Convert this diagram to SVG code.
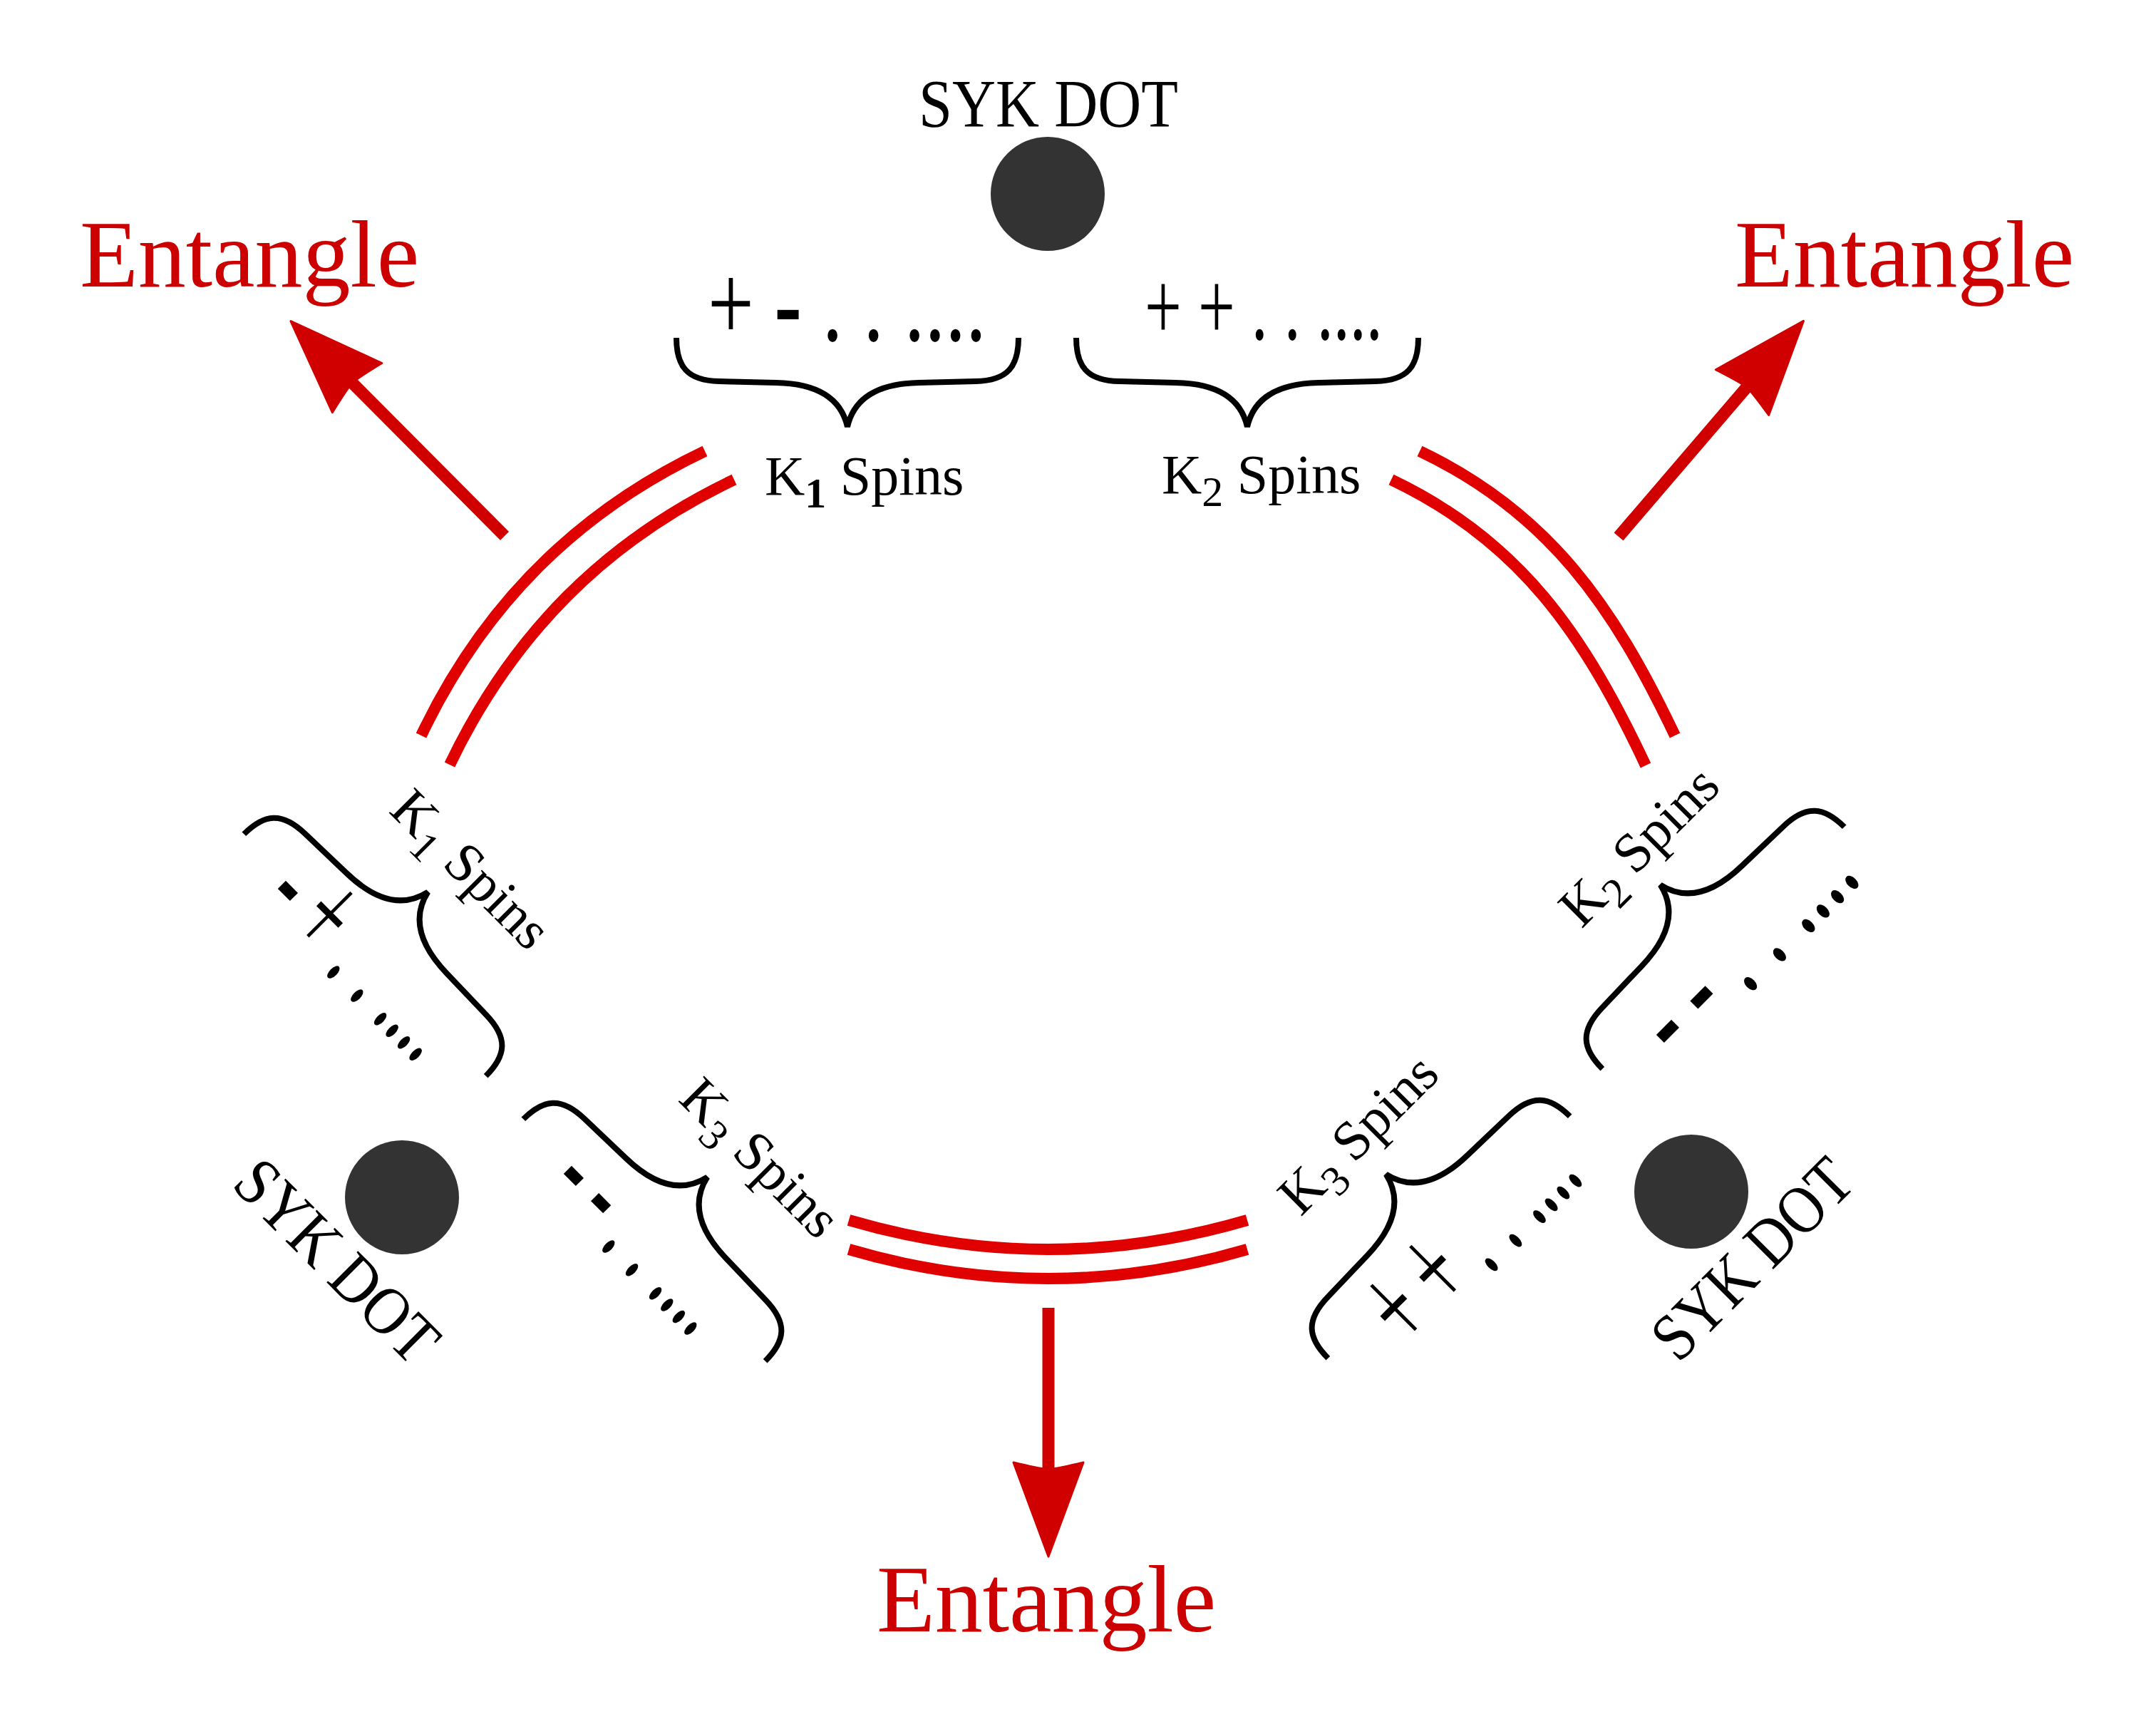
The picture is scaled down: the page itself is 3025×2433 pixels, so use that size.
<svg xmlns="http://www.w3.org/2000/svg" width="3025" height="2433" viewBox="0 0 3025 2433">
<style>
text{font-family:"Liberation Serif","Times New Roman",serif;fill:#000}
.syk{font-size:95px}
.lbl{font-size:78px}
.sub{font-size:60px}
.ent{font-size:134px;fill:#cc0000}
.seq{font-size:93px}
.hy{font-weight:bold}
.brace{fill:none;stroke:#000;stroke-width:8}
.link{fill:none;stroke:#e00000;stroke-width:16}
.arrow{fill:none;stroke:#d00000;stroke-width:17}
.dot{fill:#333333}
</style>
<defs>
<path id="br" d="M-240,0 C-240,40 -225,60 -180,61 L-100,63 C-50,64 -10,80 0,125 C10,80 50,64 100,63 L180,61 C225,60 240,40 240,0"/>
<marker id="ah" markerUnits="userSpaceOnUse" orient="auto" markerWidth="300" markerHeight="300" viewBox="-150 -150 300 300" refX="0" refY="0">
<path d="M122,0 L-10,-49 Q-2,-16 0,0 Q-2,16 -10,49 Z" fill="#d00000" stroke="#d00000" stroke-width="3" stroke-linejoin="round"/>
</marker>
</defs>
<rect width="3025" height="2433" fill="#fff"/>

<g id="connectors">
<path class="link" d="M989,633 C808,719 677,851 591,1032"/>
<path class="link" d="M1030,673 C849,759 718,891 631,1073"/>
<path class="link" d="M1992,633 C2173,719 2264,851 2350,1032"/>
<path class="link" d="M1952,673 C2133,759 2223,891 2309,1074"/>
<path class="link" d="M1191,1712 Q1470,1794 1750,1712"/>
<path class="link" d="M1191,1753 Q1470,1835 1750,1753"/>
<path class="arrow" d="M708,752 L494,537" marker-end="url(#ah)"/>
<path class="arrow" d="M2271,753 L2451,543" marker-end="url(#ah)"/>
<path class="arrow" d="M1471,1835 L1471,2062" marker-end="url(#ah)"/>
</g>

<g id="entangle-left"><text class="ent" x="112" y="402">Entangle</text></g>
<g id="entangle-right"><text class="ent" x="2434" y="402">Entangle</text></g>
<g id="entangle-bottom"><text class="ent" x="1230" y="2289">Entangle</text></g>

<g id="syk-dot-top">
<circle class="dot" cx="1470" cy="272" r="80"/>
<text class="syk" x="1289" y="178" textLength="364" lengthAdjust="spacingAndGlyphs">SYK DOT</text>
</g>
<g id="syk-dot-left">
<circle class="dot" cx="564" cy="1680" r="80"/>
<text class="syk" transform="translate(323,1664) rotate(45)" textLength="361" lengthAdjust="spacingAndGlyphs">SYK DOT</text>
</g>
<g id="syk-dot-right">
<circle class="dot" cx="2373" cy="1672" r="80"/>
<text class="syk" transform="translate(2355,1914) rotate(-45)" textLength="355" lengthAdjust="spacingAndGlyphs">SYK DOT</text>
</g>

<g id="spins-top-k1">
<use href="#br" class="brace" transform="translate(1189,474)"/>
<text class="seq" style="font-size:115px" transform="translate(993,478) scale(1,1.35)">+ <tspan class="hy">-</tspan> . . ....</text>
<text class="lbl" x="1073" y="694">K<tspan class="sub" dy="18" font-weight="bold">1</tspan><tspan dy="-18"> Spins</tspan></text>
</g>
<g id="spins-top-k2">
<use href="#br" class="brace" transform="translate(1750,474)"/>
<text class="seq" style="font-size:92px" transform="translate(1606,476) scale(1,1.5)">+ + . . ....</text>
<text class="lbl" x="1630" y="692">K<tspan class="sub" dy="18">2</tspan><tspan dy="-18"> Spins</tspan></text>
</g>
<g id="spins-left-k1">
<use href="#br" class="brace" transform="translate(512,1340) rotate(-135)"/>
<text class="seq" transform="translate(362,1270) rotate(45) scale(1,2)"><tspan class="hy">-</tspan> + . . ....</text>
<text class="lbl" transform="translate(544,1139) rotate(45)">K<tspan class="sub" dy="18">1</tspan><tspan dy="-18"> Spins</tspan></text>
</g>
<g id="spins-left-k3">
<use href="#br" class="brace" transform="translate(904,1740) rotate(-135)"/>
<text class="seq" transform="translate(763,1670) rotate(45) scale(1,2)"><tspan class="hy">-</tspan> <tspan class="hy">-</tspan> . . ....</text>
<text class="lbl" transform="translate(950,1544) rotate(45)">K<tspan class="sub" dy="18">3</tspan><tspan dy="-18"> Spins</tspan></text>
</g>
<g id="spins-right-k2">
<use href="#br" class="brace" transform="translate(2418,1330) rotate(135)"/>
<text class="seq" style="font-size:115px" transform="translate(2357,1491) rotate(-45) scale(1,1.6)"><tspan class="hy">-</tspan> <tspan class="hy">-</tspan> . . ....</text>
<text class="lbl" transform="translate(2219,1304) rotate(-45)">K<tspan class="sub" dy="18">2</tspan><tspan dy="-18"> Spins</tspan></text>
</g>
<g id="spins-right-k3">
<use href="#br" class="brace" transform="translate(2033,1736) rotate(135)"/>
<text class="seq" style="font-size:95px" transform="translate(1981,1898) rotate(-45) scale(1,2)">+ + . . ....</text>
<text class="lbl" transform="translate(1825,1708) rotate(-45)">K<tspan class="sub" dy="18">3</tspan><tspan dy="-18"> Spins</tspan></text>
</g>
</svg>
